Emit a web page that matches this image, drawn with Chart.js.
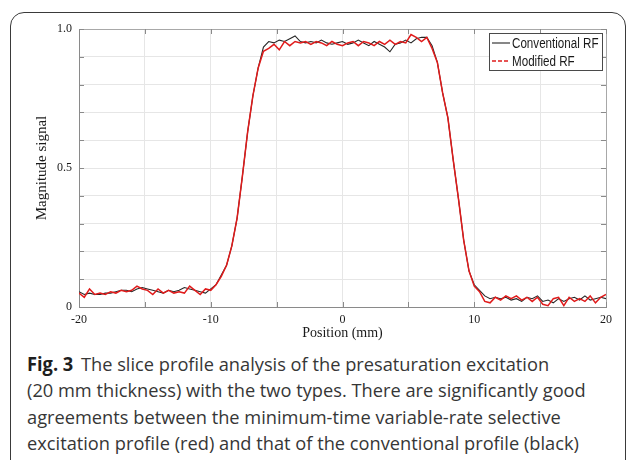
<!DOCTYPE html>
<html>
<head>
<meta charset="utf-8">
<script src="https://cdn.jsdelivr.net/npm/chart.js@4.4.1/dist/chart.umd.min.js"></script>
<style>
  html, body { margin: 0; padding: 0; background: #fff; }
  body { width: 630px; height: 460px; position: relative; overflow: hidden; }
  #frame {
    position: absolute; left: 10px; top: 12px; width: 616px; height: 520px;
    border: 1.5px solid #3a3a3a; border-radius: 14px; box-sizing: border-box;
  }
  #plot { position: absolute; left: 0; top: 0; }
  #caption {
    position: absolute; left: 27px; top: 351px; white-space: nowrap;
    font-family: "Open Sans", "Noto Sans", sans-serif; font-size: 19px; line-height: 26.3px;
    color: #363636; transform: scaleX(0.96); transform-origin: left top;
  }
  #caption b { color: #1e1e1e; margin-right: 8px; }
</style>
</head>
<body>
<div id="frame"></div>
<canvas id="plot" width="630" height="345"></canvas>
<div id="caption"><b>Fig. 3</b>The slice profile analysis of the presaturation excitation<br>(20 mm thickness) with the two types. There are significantly good<br>agreements between the minimum-time variable-rate selective<br>excitation profile (red) and that of the conventional profile (black)</div>
<script>
// position along the slice (mm)
const positionMm = [
  -20, -19.6, -19.2, -18.8, -18.4, -18, -17.6, -17.2, -16.8, -16.4,
  -16, -15.6, -15.2, -14.8, -14.4, -14, -13.6, -13.2, -12.8, -12.4,
  -12, -11.6, -11.2, -10.8, -10.4, -10, -9.6, -9.2, -8.8, -8.4,
  -8, -7.6, -7.2, -6.8, -6.4, -6, -5.6, -5.2, -4.8, -4.4,
  -4, -3.6, -3.2, -2.8, -2.4, -2, -1.6, -1.2, -0.8, -0.4,
  0, 0.4, 0.8, 1.2, 1.6, 2, 2.4, 2.8, 3.2, 3.6,
  4, 4.4, 4.8, 5.2, 5.6, 6, 6.4, 6.8, 7.2, 7.6,
  8, 8.4, 8.8, 9.2, 9.6, 10, 10.4, 10.8, 11.2, 11.6,
  12, 12.4, 12.8, 13.2, 13.6, 14, 14.4, 14.8, 15.2, 15.6,
  16, 16.4, 16.8, 17.2, 17.6, 18, 18.4, 18.8, 19.2, 19.6, 20
];

const conventionalRF = [
  0.055, 0.045, 0.05, 0.045, 0.045, 0.05, 0.05, 0.055, 0.06, 0.06,
  0.055, 0.065, 0.07, 0.065, 0.06, 0.055, 0.05, 0.06, 0.055, 0.06,
  0.07, 0.065, 0.06, 0.055, 0.05, 0.065, 0.08, 0.115, 0.15, 0.22,
  0.32, 0.47, 0.63, 0.76, 0.86, 0.935, 0.955, 0.95, 0.96, 0.955,
  0.965, 0.975, 0.955, 0.95, 0.955, 0.95, 0.96, 0.95, 0.945, 0.95,
  0.955, 0.945, 0.95, 0.96, 0.95, 0.94, 0.955, 0.945, 0.935, 0.918,
  0.945, 0.95, 0.96, 0.95, 0.965, 0.97, 0.97, 0.94, 0.88, 0.77,
  0.68, 0.53, 0.39, 0.24, 0.13, 0.08, 0.06, 0.04, 0.03, 0.035,
  0.03, 0.035, 0.025, 0.03, 0.02, 0.035, 0.03, 0.04, 0.02, 0.025,
  0.015, 0.03, 0.02, 0.03, 0.035, 0.025, 0.04, 0.025, 0.03, 0.035, 0.03
];

const modifiedRF = [
  0.05, 0.035, 0.065, 0.045, 0.05, 0.045, 0.055, 0.05, 0.06, 0.055,
  0.06, 0.075, 0.065, 0.06, 0.045, 0.065, 0.05, 0.06, 0.05, 0.055,
  0.05, 0.075, 0.06, 0.045, 0.065, 0.06, 0.08, 0.11, 0.15, 0.22,
  0.32, 0.47, 0.63, 0.76, 0.86, 0.92, 0.93, 0.945, 0.925, 0.955,
  0.94, 0.955, 0.95, 0.955, 0.945, 0.955, 0.95, 0.94, 0.955, 0.945,
  0.94, 0.95, 0.955, 0.94, 0.955, 0.95, 0.94, 0.955, 0.945, 0.96,
  0.945, 0.955, 0.95, 0.98, 0.97, 0.955, 0.97, 0.93, 0.88, 0.77,
  0.68, 0.53, 0.39, 0.24, 0.13, 0.075, 0.055, 0.02, 0.015, 0.035,
  0.025, 0.04, 0.03, 0.04, 0.025, 0.035, 0.02, 0.035, 0.01, 0.005,
  0.03, 0.035, 0.005, 0.035, 0.02, 0.03, 0.02, 0.04, 0.015, 0.035, 0.045
];

const xTickLabels = [-20, -10, 0, 10, 20];
const yTickLabels = ['0', '0.5', '1.0'];
const seriesNames = ['Conventional RF', 'Modified RF'];

const toPoints = vals => vals.map((v, i) => ({ x: positionMm[i], y: v }));

// MATLAB-ish box: top/right edges, inward ticks, and the legend in the corner
const boxPlugin = {
  id: 'boxPlugin',
  afterDraw(chart) {
    const { ctx, chartArea: a, scales: { x, y } } = chart;
    ctx.save();
    ctx.lineWidth = 1;
    ctx.strokeStyle = '#a8a8a8';
    ctx.beginPath();
    ctx.moveTo(a.left, a.top + 0.5);
    ctx.lineTo(a.right + 0.5, a.top + 0.5);
    ctx.lineTo(a.right + 0.5, a.bottom);
    ctx.stroke();

    ctx.strokeStyle = '#8a8a8a';
    ctx.beginPath();
    x.ticks.forEach(t => {
      const px = Math.round(x.getPixelForValue(t.value)) + 0.5;
      ctx.moveTo(px, a.top); ctx.lineTo(px, a.top + 5);
      ctx.moveTo(px, a.bottom); ctx.lineTo(px, a.bottom - 5);
    });
    y.ticks.forEach(t => {
      const py = Math.round(y.getPixelForValue(t.value)) + 0.5;
      ctx.moveTo(a.left, py); ctx.lineTo(a.left + 5, py);
      ctx.moveTo(a.right, py); ctx.lineTo(a.right - 5, py);
    });
    ctx.stroke();

    // legend
    const lx = 489, ly = 33, lw = 113, lh = 37;
    ctx.fillStyle = '#fff';
    ctx.fillRect(lx, ly, lw, lh);
    ctx.strokeStyle = '#4a4a4a';
    ctx.strokeRect(lx + 0.5, ly + 0.5, lw, lh);
    const rows = [43, 61];
    chart.data.datasets.slice().reverse().forEach((ds, i) => {
      ctx.strokeStyle = ds.borderColor;
      ctx.lineWidth = ds.borderWidth;
      ctx.setLineDash(i === 1 ? [4, 2] : []);
      ctx.beginPath();
      ctx.moveTo(lx + 3, rows[i]);
      ctx.lineTo(lx + 21, rows[i]);
      ctx.stroke();
      ctx.setLineDash([]);
      ctx.save();
      ctx.translate(lx + 23, rows[i]);
      ctx.scale(0.83, 1);
      ctx.fillStyle = '#1a1a1a';
      ctx.font = '14px "Liberation Sans", Arial, sans-serif';
      ctx.textBaseline = 'middle';
      ctx.fillText(ds.label, 0, 1);
      ctx.restore();
    });
    ctx.restore();
  }
};

new Chart(document.getElementById('plot'), {
  type: 'line',
  data: {
    datasets: [
      {
        label: seriesNames[1],
        data: toPoints(modifiedRF),
        borderColor: '#e01b1b',
        borderWidth: 1.5,
        pointRadius: 0,
        tension: 0
      },
      {
        label: seriesNames[0],
        data: toPoints(conventionalRF),
        borderColor: '#262626',
        borderWidth: 1.1,
        pointRadius: 0,
        tension: 0
      }
    ]
  },
  options: {
    responsive: false,
    animation: false,
    layout: { padding: { top: 29, right: 24, left: 0, bottom: 0 } },
    plugins: { legend: { display: false }, tooltip: { enabled: false } },
    scales: {
      x: {
        type: 'linear',
        min: -20,
        max: 20,
        afterFit: s => { s.height = 38; },
        ticks: {
          stepSize: 5,
          padding: 6,
          maxRotation: 0,
          autoSkip: false,
          color: '#1a1a1a',
          font: { family: '"Liberation Serif", "Times New Roman", serif', size: 12 },
          callback: v => xTickLabels.includes(v) ? String(v) : ''
        },
        grid: { color: '#e6e6e6', drawTicks: false },
        border: { color: '#8a8a8a' },
        title: {
          display: true,
          text: 'Position (mm)',
          color: '#1a1a1a',
          font: { family: '"Liberation Serif", "Times New Roman", serif', size: 14 },
          padding: { top: 0, bottom: 3 }
        }
      },
      y: {
        min: 0,
        max: 1,
        afterFit: s => { s.width = 79; },
        ticks: {
          stepSize: 0.1,
          padding: 7,
          autoSkip: false,
          color: '#1a1a1a',
          font: { family: '"Liberation Serif", "Times New Roman", serif', size: 12 },
          callback: v => {
            const k = Math.round(v * 10);
            return k === 0 ? yTickLabels[0] : k === 5 ? yTickLabels[1] : k === 10 ? yTickLabels[2] : '';
          }
        },
        grid: { color: '#e6e6e6', drawTicks: false },
        border: { color: '#8a8a8a' },
        title: {
          display: true,
          text: 'Magnitude signal',
          color: '#1a1a1a',
          font: { family: '"Liberation Serif", "Times New Roman", serif', size: 15 },
          padding: { top: 33, bottom: 0 }
        }
      }
    }
  },
  plugins: [boxPlugin]
});
</script>
</body>
</html>
